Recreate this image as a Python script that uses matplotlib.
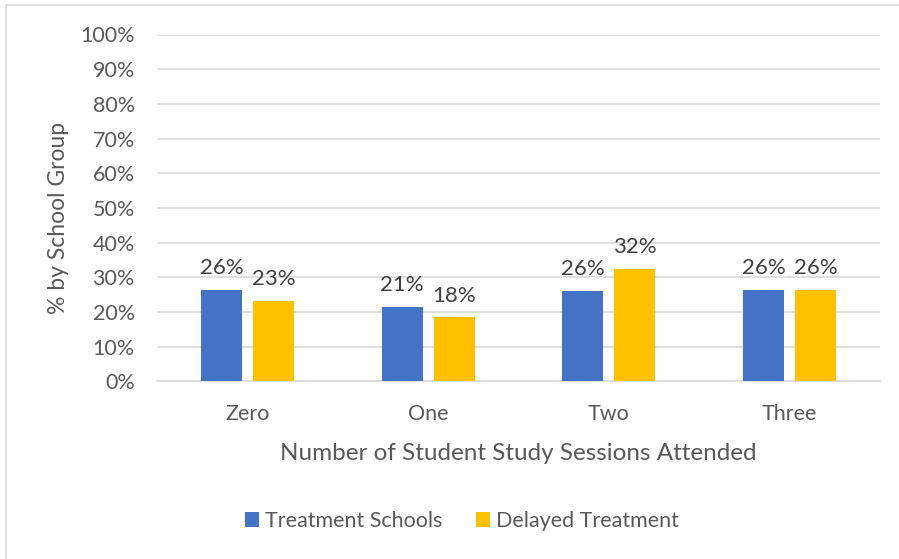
import numpy as np
import matplotlib
matplotlib.use('Agg')
import matplotlib.pyplot as plt
from matplotlib.patches import Rectangle

plt.rcParams['font.family'] = ['Lato', 'DejaVu Sans']

# data
categories = ['Zero', 'One', 'Two', 'Three']
treatment = [26.4, 21.4, 26.1, 26.4]
delayed = [23.2, 18.4, 32.4, 26.3]
series_names = ['Treatment Schools', 'Delayed Treatment']

blue = '#4472C4'
gold = '#FFC000'
grid_c = '#D9D9D9'
tick_c = '#595959'

fig = plt.figure(figsize=(8.99, 5.59), dpi=100)
ax = fig.add_axes([157/899, 1 - 381.3/559, (880 - 157)/899, (381.3 - 34.5)/559])

x = np.arange(len(categories))
w = 0.227
off = (w + 0.06) / 2
b1 = ax.bar(x - off, treatment, w, color=blue, label=series_names[0], zorder=3)
b2 = ax.bar(x + off, delayed, w, color=gold, label=series_names[1], zorder=3)

for bars in (b1, b2):
    for r in bars:
        ax.text(r.get_x() + r.get_width() / 2, r.get_height() + 4.6,
                '%d%%' % round(r.get_height()), ha='center', va='baseline',
                fontsize=16, color='#404040')

ax.set_xlim(-0.5, len(categories) - 0.5)
ax.set_ylim(0, 100)
ax.set_yticks(range(0, 101, 10))
ax.set_yticklabels(['%d%%' % v for v in range(0, 101, 10)])
ax.set_xticks(x)
ax.set_xticklabels(categories)
ax.tick_params(length=0, labelsize=15.5, colors=tick_c)
ax.tick_params(axis='y', pad=16)
ax.tick_params(axis='x', pad=16)
ax.yaxis.grid(True, color=grid_c, lw=1.2, zorder=0)
for s in ['top', 'right', 'left']:
    ax.spines[s].set_visible(False)
ax.spines['bottom'].set_color(grid_c)
ax.spines['bottom'].set_linewidth(1.2)

ax.set_xlabel('Number of Student Study Sessions Attended', fontsize=17.5,
              color=tick_c, labelpad=14)
ax.set_ylabel('% by School Group', fontsize=16.5, color=tick_c)
ax.yaxis.set_label_coords((69 - 157) / 723, 0.47)

leg = fig.legend(handles=[b1, b2], labels=series_names, loc='center',
                 bbox_to_anchor=(462/899, 1 - 521/559), ncol=2, frameon=False,
                 fontsize=15.5, handlelength=0.65, handleheight=0.65,
                 handletextpad=0.25, columnspacing=1.6)
for t in leg.get_texts():
    t.set_color(tick_c)

fig.patches.append(Rectangle((6/899, -0.1), 1.1, 1 - 5/559 + 0.1,
                             transform=fig.transFigure, fill=False,
                             edgecolor=grid_c, lw=1.2))

fig.savefig('out.png', dpi=100)
